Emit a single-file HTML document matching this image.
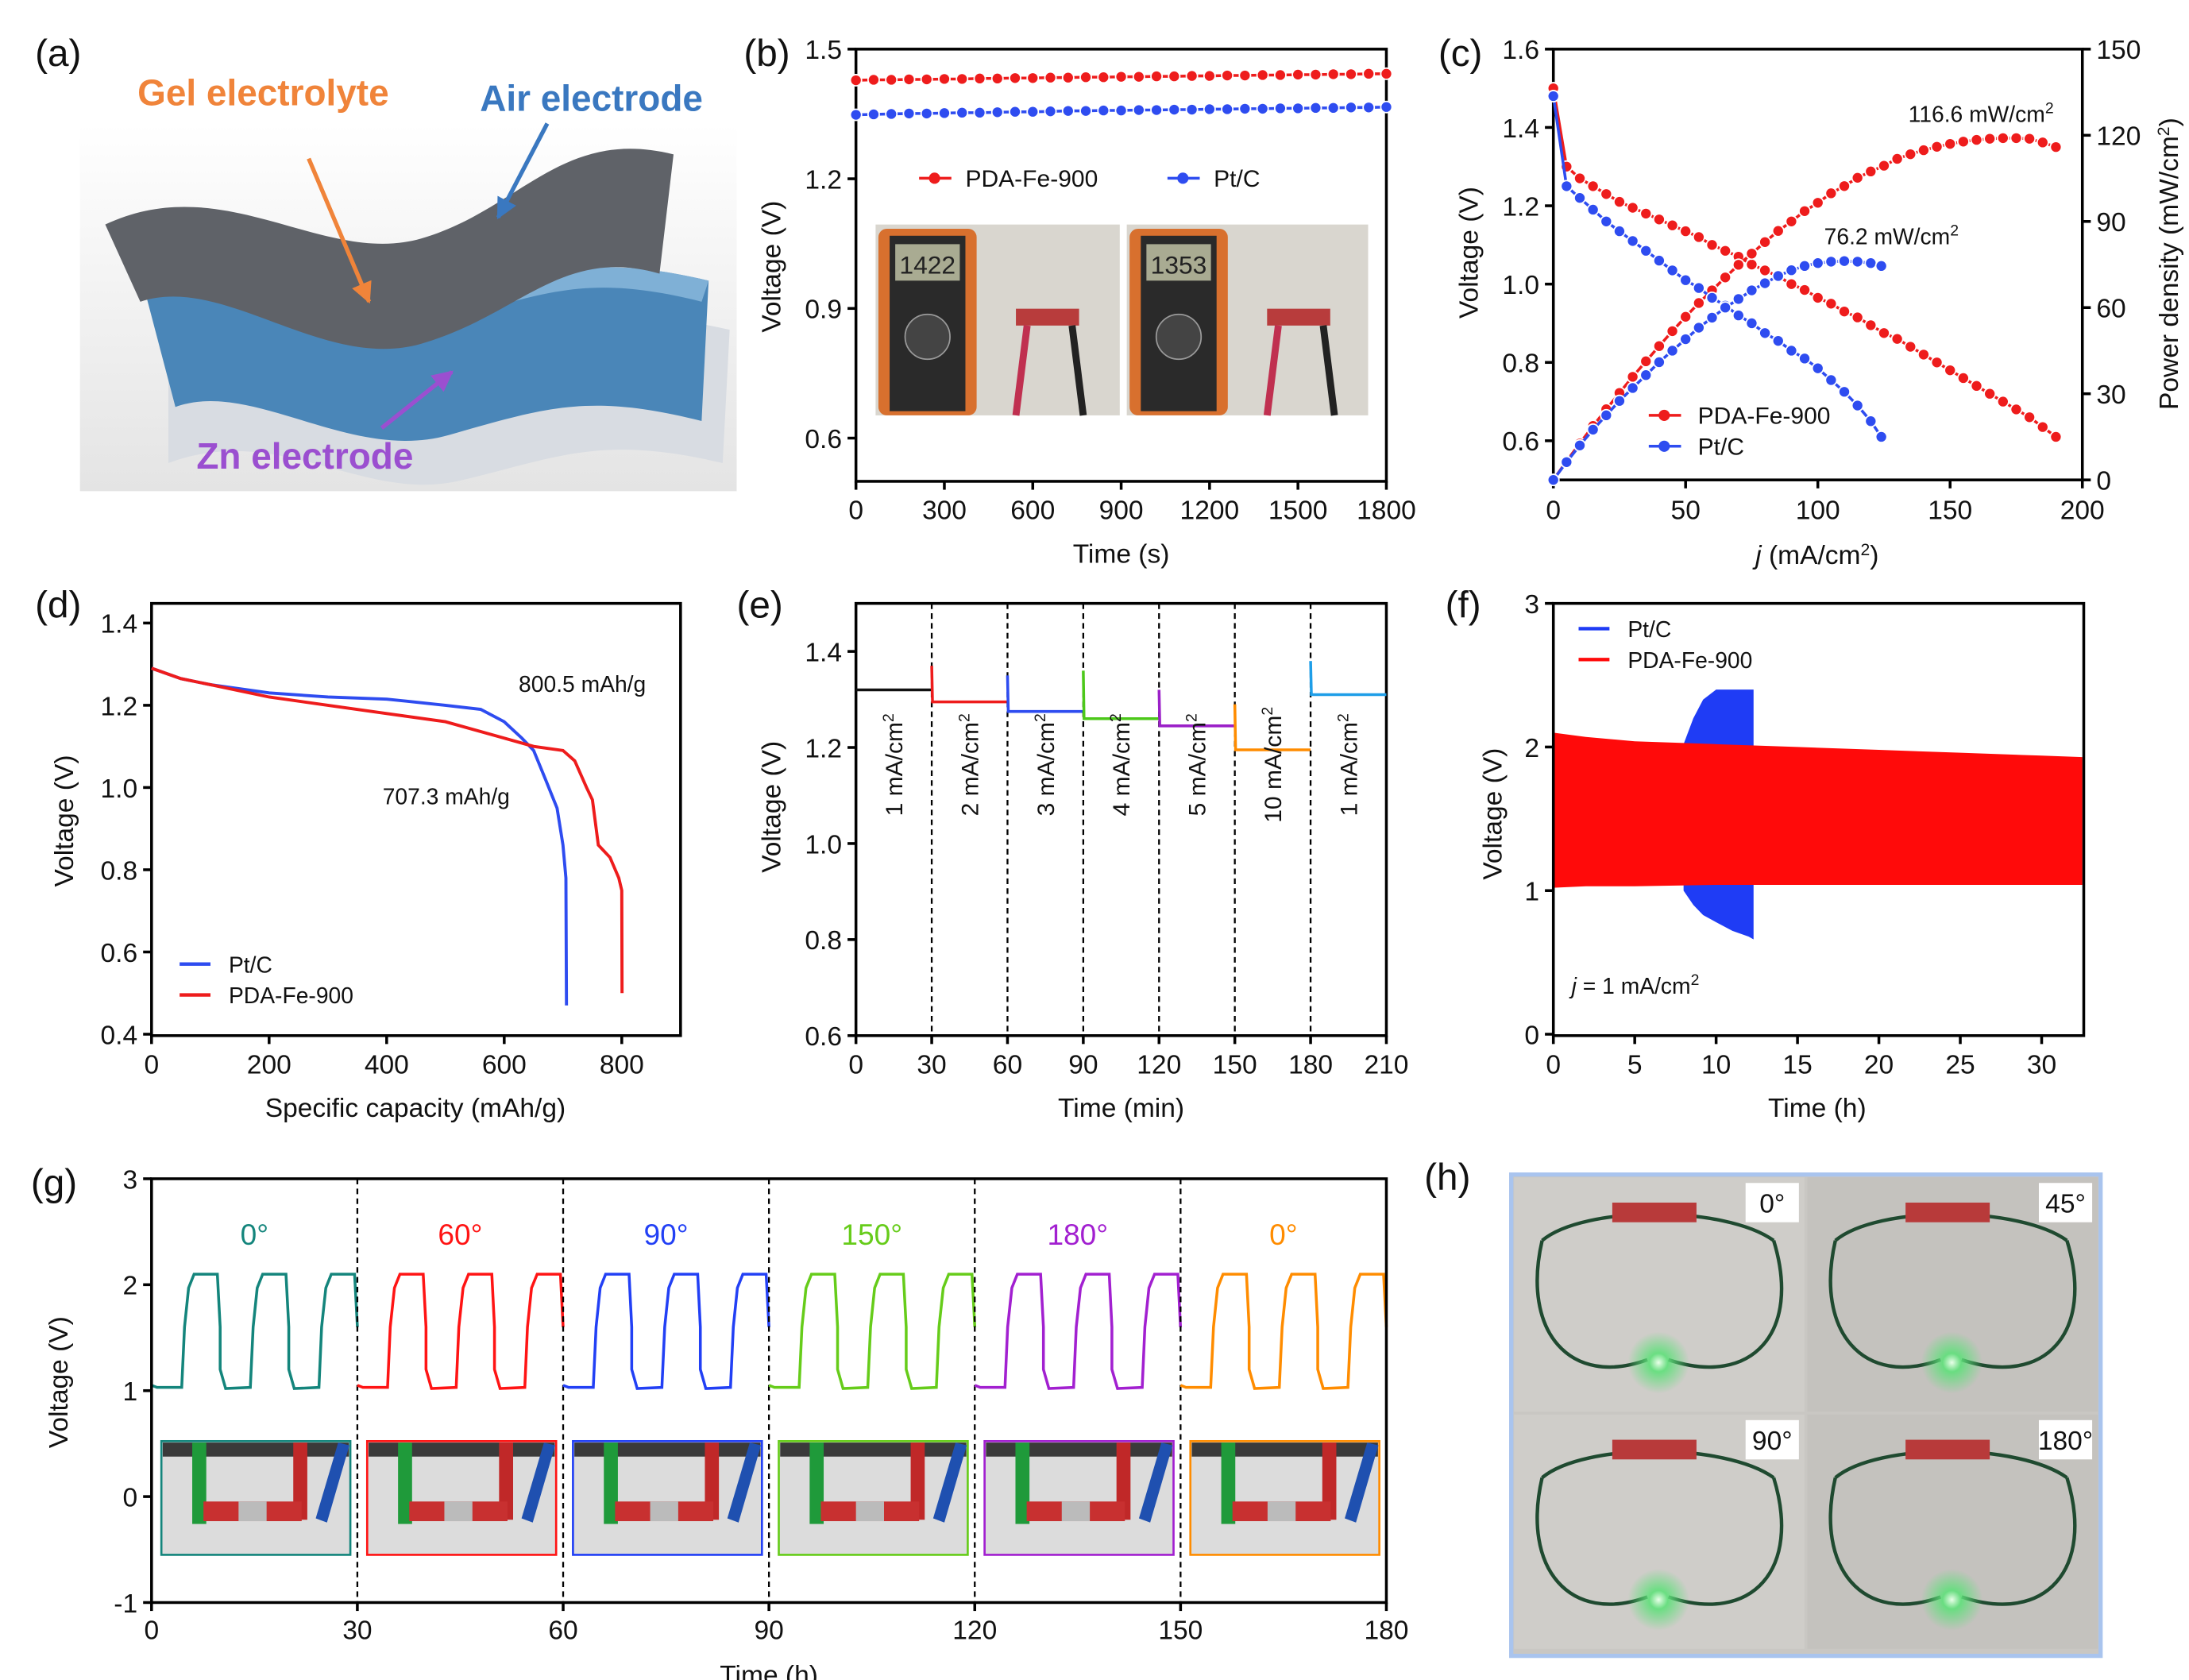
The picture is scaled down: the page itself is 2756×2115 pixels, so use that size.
<!DOCTYPE html>
<html><head><meta charset="utf-8">
<style>
html,body{margin:0;padding:0;background:#fff;}
svg{display:block;font-family:"Liberation Sans",Arial,sans-serif;}
</style></head>
<body>
<svg id="fig" width="2756" height="2115" viewBox="0 0 1560 1197.2" preserveAspectRatio="none" xmlns="http://www.w3.org/2000/svg">
<defs>
<radialGradient id="glow"><stop offset="0" stop-color="#eaffea"/><stop offset="0.3" stop-color="#5fe07a" stop-opacity="0.9"/><stop offset="1" stop-color="#5fe07a" stop-opacity="0"/></radialGradient>
<linearGradient id="abg" x1="0" y1="0" x2="0" y2="1"><stop offset="0" stop-color="#ffffff"/><stop offset="1" stop-color="#e4e4e4"/></linearGradient>
<marker id="arrO" viewBox="0 0 10 10" refX="9" refY="5" markerWidth="5" markerHeight="5" orient="auto"><path d="M0,0L10,5L0,10z" fill="#f0843a"/></marker>
<marker id="arrB" viewBox="0 0 10 10" refX="9" refY="5" markerWidth="5" markerHeight="5" orient="auto"><path d="M0,0L10,5L0,10z" fill="#3a78c0"/></marker>
<marker id="arrP" viewBox="0 0 10 10" refX="9" refY="5" markerWidth="5" markerHeight="5" orient="auto"><path d="M0,0L10,5L0,10z" fill="#9b4fd0"/></marker>
</defs>

<!-- panel a -->
<g>
<rect x="57" y="88" width="468" height="262" fill="url(#abg)"/>
<path d="M120,248 C200,200 260,270 330,250 C400,230 430,215 520,235 L515,330 C430,310 400,325 330,342 C260,360 200,300 120,330 Z" fill="#d8dce2"/>
<path d="M100,195 C180,160 250,235 320,215 C390,195 420,180 505,200 L500,300 C420,280 390,290 320,310 C250,330 180,270 125,290 Z" fill="#4a86b8"/>
<path d="M100,195 C180,160 250,235 320,215 C390,195 420,180 505,200 L500,215 C420,195 390,208 320,228 C250,248 180,178 100,210 Z" fill="#7fb0d6"/>
<path d="M75,160 C160,120 230,190 300,170 C370,150 400,90 480,110 L470,195 C400,175 370,225 300,245 C230,265 160,195 100,215 Z" fill="#5f6268"/>
<text x="98" y="75" font-size="26" font-weight="bold" fill="#f0843a">Gel electrolyte</text>
<text x="342" y="79" font-size="26" font-weight="bold" fill="#3a78c0">Air electrode</text>
<text x="140" y="334" font-size="26" font-weight="bold" fill="#9b4fd0">Zn electrode</text>
<line x1="220" y1="113" x2="263" y2="215" stroke="#f0843a" stroke-width="3" marker-end="url(#arrO)"/>
<line x1="390" y1="88" x2="355" y2="155" stroke="#3a78c0" stroke-width="3" marker-end="url(#arrB)"/>
<line x1="272" y1="305" x2="322" y2="265" stroke="#9b4fd0" stroke-width="3" marker-end="url(#arrP)"/>
</g>

<g id="plots"></g>
</svg>

<script>
const NS='http://www.w3.org/2000/svg';
const root=document.getElementById('plots');
function mk(tag,attrs,parent){const e=document.createElementNS(NS,tag);for(const k in attrs)e.setAttribute(k,attrs[k]);(parent||root).appendChild(e);return e;}
function txt(s,x,y,attrs,parent){const t=mk('text',Object.assign({x:x,y:y,'font-size':19,fill:'#111'},attrs||{}),parent);t.textContent=s;return t;}
function lin(d0,d1,p0,p1){return v=>p0+(v-d0)/(d1-d0)*(p1-p0);}
function ptsStr(xs,ys,fx,fy){return xs.map((x,i)=>fx(x).toFixed(1)+','+fy(ys[i]).toFixed(1)).join(' ');}

/* ===== DATA ===== */
// (b)
const bTime=[0,60,120,180,240,300,360,420,480,540,600,660,720,780,840,900,960,1020,1080,1140,1200,1260,1320,1380,1440,1500,1560,1620,1680,1740,1800];
const bPDA=[1.428,1.429,1.429,1.430,1.430,1.431,1.431,1.432,1.432,1.433,1.433,1.434,1.434,1.435,1.435,1.436,1.436,1.437,1.437,1.438,1.438,1.439,1.439,1.440,1.440,1.441,1.441,1.442,1.442,1.443,1.443];
const bPtC=[1.348,1.349,1.350,1.351,1.351,1.352,1.353,1.353,1.354,1.355,1.355,1.356,1.357,1.357,1.358,1.358,1.359,1.359,1.360,1.360,1.361,1.361,1.362,1.362,1.363,1.363,1.364,1.364,1.365,1.365,1.366];
const bXTicks=[0,300,600,900,1200,1500,1800];
const bYTicks=[0.6,0.9,1.2,1.5];
// (c)
const cJpda=[0,5,10,15,20,25,30,35,40,45,50,55,60,65,70,75,80,85,90,95,100,105,110,115,120,125,130,135,140,145,150,155,160,165,170,175,180,185,190];
const cVpda=[1.50,1.30,1.27,1.25,1.23,1.21,1.195,1.18,1.165,1.15,1.135,1.12,1.10,1.085,1.07,1.05,1.035,1.02,1.0,0.985,0.965,0.95,0.93,0.915,0.895,0.875,0.86,0.84,0.82,0.80,0.78,0.76,0.74,0.72,0.70,0.68,0.66,0.635,0.61];
const cPpda=[0,6.5,12.7,18.8,24.6,30.3,35.9,41.3,46.6,51.8,56.8,61.6,66,70.5,74.9,78.8,82.8,86.7,90,93.6,96.5,99.8,102.3,105.2,107.4,109.4,111.8,113.4,114.8,116,117,117.8,118.4,118.8,119,119,118.8,117.5,115.9];
const cJptc=[0,5,10,15,20,25,30,35,40,45,50,55,60,65,70,75,80,85,90,95,100,105,110,115,120,124];
const cVptc=[1.48,1.25,1.22,1.19,1.16,1.135,1.11,1.085,1.06,1.035,1.01,0.99,0.965,0.945,0.92,0.90,0.875,0.855,0.83,0.81,0.785,0.755,0.725,0.69,0.65,0.61];
const cPptc=[0,6.2,12,17.5,22.5,27.5,32,36.5,41,45,49,53,56.5,60,63,66,68.5,71,73,74.5,75.5,76,76.2,76,75.5,74.5];
const cXTicks=[0,50,100,150,200];
const cYTicks=[0.6,0.8,1.0,1.2,1.4,1.6];
const cY2Ticks=[0,30,60,90,120,150];
// (d)
const dCapPtc=[0,50,100,200,300,400,500,560,600,630,650,670,690,700,705,706];
const dVPtc=[1.29,1.265,1.25,1.23,1.22,1.215,1.20,1.19,1.16,1.12,1.09,1.02,0.95,0.86,0.78,0.47];
const dCapPda=[0,50,100,200,300,400,500,600,650,700,720,740,750,760,780,795,800,800.5];
const dVPda=[1.29,1.265,1.25,1.22,1.20,1.18,1.16,1.12,1.10,1.09,1.065,1.00,0.97,0.86,0.83,0.78,0.75,0.5];
const dXTicks=[0,200,400,600,800];
const dYTicks=[0.4,0.6,0.8,1.0,1.2,1.4];
// (e)
const eStart=[0,30,60,90,120,150,180];
const eVolt=[1.32,1.295,1.275,1.26,1.245,1.195,1.31];
const eSpike=[1.32,1.37,1.35,1.36,1.32,1.29,1.38];
const eLabels=['1 mA/cm','2 mA/cm','3 mA/cm','4 mA/cm','5 mA/cm','10 mA/cm','1 mA/cm'];
const eXTicks=[0,30,60,90,120,150,180,210];
const eYTicks=[0.6,0.8,1.0,1.2,1.4];
// (f)
const fTime=[0,2,5,10,15,20,25,30,32.5];
const fUpper=[2.1,2.07,2.04,2.02,2.0,1.98,1.96,1.94,1.93];
const fLower=[1.02,1.03,1.03,1.04,1.04,1.04,1.04,1.04,1.04];
const fBlueTime=[8,8.6,9.2,10,11,12,12.3];
const fBlueUpper=[2.02,2.2,2.33,2.4,2.4,2.4,2.4];
const fBlueLower=[1.0,0.9,0.83,0.78,0.72,0.68,0.66];
const fXTicks=[0,5,10,15,20,25,30];
const fYTicks=[0,1,2,3];
// (g)
const gSegStart=[0,30,60,90,120,150];
const gAngles=['0°','60°','90°','150°','180°','0°'];
const gTplT=[0,0.8,4.4,4.8,5.4,6.2,9.6,10];
const gTplV=[1.2,1.02,1.03,1.6,1.97,2.1,2.1,1.6];
const gXTicks=[0,30,60,90,120,150,180];
const gYTicks=[-1,0,1,2,3];

/* ===== helpers ===== */
function frame(name,x0,y0,x1,y1){const r=mk('rect',{x:x0,y:y0,width:x1-x0,height:y1-y0,fill:'none',stroke:'#000','stroke-width':2});

}
function xAxis(ticks,fx,y,labelY,fmt,prefix){ticks.forEach(v=>{mk('line',{x1:fx(v),x2:fx(v),y1:y,y2:y+6,stroke:'#000','stroke-width':2});
const t=txt(fmt?fmt(v):String(v),fx(v),labelY,{'text-anchor':'middle'});

});}
function yAxis(ticks,fy,x,fmt,prefix,right){ticks.forEach(v=>{mk('line',{x1:x,x2:right?x+6:x-6,y1:fy(v),y2:fy(v),stroke:'#000','stroke-width':2});
const t=txt(fmt?fmt(v):String(v),right?x+10:x-10,fy(v)+7,{'text-anchor':right?'start':'end'});

});}
function vtitle(s,x,y,name){const t=txt(s,x,y,{'text-anchor':'middle',transform:'rotate(-90 '+x+' '+y+')'});

return t;}
function htitle(s,x,y,name){const t=txt(s,x,y,{'text-anchor':'middle'});

return t;}
function plabel(s,x,y){const t=txt(s,x,y,{'font-size':27});

}
function markerSeries(xs,ys,fx,fy,color,name){const g=mk('g',{});


mk('polyline',{points:ptsStr(xs,ys,fx,fy),fill:'none',stroke:color,'stroke-width':2},g);
xs.forEach((x,i)=>{const c=mk('circle',{cx:fx(x),cy:fy(ys[i]),r:4,fill:color,stroke:'#fff','stroke-width':1},g);

});}
function line(xs,ys,fx,fy,color,name,w){const p=mk('polyline',{points:ptsStr(xs,ys,fx,fy),fill:'none',stroke:color,'stroke-width':w||2.2});

}

/* ===== panel labels ===== */
plabel('(a)',25,47);plabel('(b)',530,47);plabel('(c)',1025,47);plabel('(d)',25,440);plabel('(e)',525,440);plabel('(f)',1030,440);plabel('(g)',22,852);plabel('(h)',1015,848);

/* ===== (b) ===== */
(function(){const fx=lin(0,1800,610,988),fy=lin(0.5,1.5,343,35);
// photos
[[624,798,'1422'],[803,975,'1353']].forEach((p,i)=>{const g=mk('g',{});


mk('rect',{x:p[0],y:160,width:p[1]-p[0],height:136,fill:'#d9d6cf'},g);
mk('rect',{x:p[0]+2,y:163,width:70,height:133,rx:6,fill:'#d8702e'},g);
mk('rect',{x:p[0]+10,y:168,width:54,height:125,fill:'#2a2a2a'},g);
mk('rect',{x:p[0]+14,y:174,width:46,height:26,fill:'#a9ab92'},g);
txt(p[2],p[0]+37,195,{'text-anchor':'middle','font-size':18,fill:'#222'},g);
mk('circle',{cx:p[0]+37,cy:240,r:16,fill:'#444',stroke:'#999'},g);
mk('rect',{x:p[0]+100,y:220,width:45,height:12,fill:'#b83c3c'},g);
mk('line',{x1:p[0]+108,y1:232,x2:p[0]+100,y2:296,stroke:'#c03050','stroke-width':5},g);
mk('line',{x1:p[0]+140,y1:232,x2:p[0]+148,y2:296,stroke:'#222','stroke-width':5},g);});
frame('plot-frame-b',610,35,988,343);
xAxis(bXTicks,fx,343,370,null,'b');yAxis(bYTicks,fy,610,v=>v.toFixed(1),'b');
htitle('Time (s)',799,401,'x-axis-title-b');vtitle('Voltage (V)',556,190,'y-axis-title-b');
markerSeries(bTime,bPDA,fx,fy,'#ee1c1c','series-b-pda-fe-900');
markerSeries(bTime,bPtC,fx,fy,'#2e4cf0','series-b-ptc');
const lg=mk('g',{});
mk('line',{x1:655,x2:678,y1:127,y2:127,stroke:'#ee1c1c','stroke-width':2},lg);mk('circle',{cx:666,cy:127,r:4,fill:'#ee1c1c'},lg);
txt('PDA-Fe-900',688,133,{'font-size':17},lg);
mk('line',{x1:832,x2:855,y1:127,y2:127,stroke:'#2e4cf0','stroke-width':2},lg);mk('circle',{cx:843,cy:127,r:4,fill:'#2e4cf0'},lg);
txt('Pt/C',865,133,{'font-size':17},lg);})();

/* ===== (c) ===== */
(function(){const fx=lin(0,200,1107,1484),fy=lin(0.5,1.6,342,35),fy2=lin(0,150,342,35);
frame('plot-frame-c',1107,35,1484,342);
xAxis(cXTicks,fx,342,370,null,'c');yAxis(cYTicks,fy,1107,v=>v.toFixed(1),'c');yAxis(cY2Ticks,fy2,1484,null,'c2',true);
htitle('',1295,402,'x-axis-title-c').innerHTML='<tspan font-style="italic">j</tspan> (mA/cm<tspan baseline-shift="super" font-size="12">2</tspan>)';
vtitle('Voltage (V)',1053,180,'y-axis-title-c');
vtitle('',1552,188,'y2-axis-title-c').innerHTML='Power density (mW/cm<tspan baseline-shift="super" font-size="12">2</tspan>)';
markerSeries(cJpda,cVpda,fx,fy,'#ee1c1c','series-c-pda-voltage');
markerSeries(cJpda,cPpda,fx,fy2,'#ee1c1c','series-c-pda-power');
markerSeries(cJptc,cVptc,fx,fy,'#2e4cf0','series-c-ptc-voltage');
markerSeries(cJptc,cPptc,fx,fy2,'#2e4cf0','series-c-ptc-power');
const a1=txt('',1360,87,{'font-size':16});a1.innerHTML='116.6 mW/cm<tspan baseline-shift="super" font-size="11">2</tspan>';
const a2=txt('',1300,174,{'font-size':16});a2.innerHTML='76.2 mW/cm<tspan baseline-shift="super" font-size="11">2</tspan>';
const lg=mk('g',{});
mk('line',{x1:1175,x2:1198,y1:296,y2:296,stroke:'#ee1c1c','stroke-width':2},lg);mk('circle',{cx:1186,cy:296,r:4,fill:'#ee1c1c'},lg);
txt('PDA-Fe-900',1210,302,{'font-size':17},lg);
mk('line',{x1:1175,x2:1198,y1:318,y2:318,stroke:'#2e4cf0','stroke-width':2},lg);mk('circle',{cx:1186,cy:318,r:4,fill:'#2e4cf0'},lg);
txt('Pt/C',1210,324,{'font-size':17},lg);})();

/* ===== (d) ===== */
(function(){const fx=lin(0,900,108,485),fy=lin(0.4,1.4,737,444);
frame('plot-frame-d',108,430,485,738);
xAxis(dXTicks,fx,738,765,null,'d');yAxis(dYTicks,fy,108,v=>v.toFixed(1),'d');
htitle('Specific capacity (mAh/g)',296,796,'x-axis-title-d');vtitle('Voltage (V)',52,585,'y-axis-title-d');
line(dCapPtc,dVPtc,fx,fy,'#2e4cf0','series-d-ptc');
line(dCapPda,dVPda,fx,fy,'#ee1c1c','series-d-pda-fe-900');
htitle('800.5 mAh/g',415,493,'annotation-d-pda').setAttribute('font-size',16);
htitle('707.3 mAh/g',318,573,'annotation-d-ptc').setAttribute('font-size',16);
const lg=mk('g',{});
mk('line',{x1:128,x2:150,y1:687,y2:687,stroke:'#2e4cf0','stroke-width':2.5},lg);txt('Pt/C',163,693,{'font-size':16},lg);
mk('line',{x1:128,x2:150,y1:709,y2:709,stroke:'#ee1c1c','stroke-width':2.5},lg);txt('PDA-Fe-900',163,715,{'font-size':16},lg);})();

/* ===== (e) ===== */
(function(){const fx=lin(0,210,610,988),fy=lin(0.6,1.5,738,430);
const cols=['#111','#ee1c1c','#2e4cf0','#4cc81a','#9b20c8','#ff8c00','#1e9ee8'];
frame('plot-frame-e',610,430,988,738);
xAxis(eXTicks,fx,738,765,null,'e');yAxis(eYTicks,fy,610,v=>v.toFixed(1),'e');
htitle('Time (min)',799,796,'x-axis-title-e');vtitle('Voltage (V)',556,575,'y-axis-title-e');
eStart.forEach((s,i)=>{ if(i>0){const d=mk('line',{x1:fx(s),x2:fx(s),y1:430,y2:738,stroke:'#000','stroke-width':1.3,'stroke-dasharray':'4,3'});

}
const p=mk('polyline',{points:[fx(s),fy(eSpike[i]),fx(s+0.3),fy(eVolt[i]),fx(s+30),fy(eVolt[i])].join(' '),fill:'none',stroke:cols[i],'stroke-width':2});


const cx=fx(s+15),cy=545;const t=txt('',cx,cy+6,{'text-anchor':'middle',transform:'rotate(-90 '+cx+' '+cy+')','font-size':17});
t.innerHTML=eLabels[i]+'<tspan baseline-shift="super" font-size="11">2</tspan>';

});})();

/* ===== (f) ===== */
(function(){const fx=lin(0,30,1107,1455),fy=lin(0,3,737,430);
const bp=fBlueTime.map(t=>fx(t)+','+fy(fBlueUpper[fBlueTime.indexOf(t)])).concat(fBlueTime.slice().reverse().map(t=>fx(t)+','+fy(fBlueLower[fBlueTime.indexOf(t)])));
const b=mk('polygon',{points:bp.join(' '),fill:'#1f3cf5'});


const rp=fTime.map((t,i)=>fx(t)+','+fy(fUpper[i])).concat(fTime.map((t,i)=>fx(t)+','+fy(fLower[i])).reverse());
const r=mk('polygon',{points:rp.join(' '),fill:'#ff0a0a'});


frame('plot-frame-f',1107,430,1485,738);
xAxis(fXTicks,fx,738,765,null,'f');yAxis(fYTicks,fy,1107,null,'f');
htitle('Time (h)',1295,796,'x-axis-title-f');vtitle('Voltage (V)',1070,580,'y-axis-title-f');
const lg=mk('g',{});
mk('line',{x1:1125,x2:1147,y1:448,y2:448,stroke:'#1f3cf5','stroke-width':2.5},lg);txt('Pt/C',1160,454,{'font-size':16},lg);
mk('line',{x1:1125,x2:1147,y1:470,y2:470,stroke:'#ff0a0a','stroke-width':2.5},lg);txt('PDA-Fe-900',1160,476,{'font-size':16},lg);
const a=txt('',1120,708,{'font-size':16});a.innerHTML='<tspan font-style="italic">j</tspan> = 1 mA/cm<tspan baseline-shift="super" font-size="11">2</tspan>';

})();

/* ===== (g) ===== */
(function(){const fx=lin(0,180,108,988),fy=lin(-1,3,1142,840);
const cols=['#14857c','#ff1414','#2240f5','#66cc1a','#a220d0','#ff8c00'];
gSegStart.forEach((s,i)=>{
 const ix=fx(s)+7,iw=fx(s+30)-fx(s)-12;
 const g=mk('g',{});
 mk('rect',{x:ix,y:1027,width:iw,height:81,fill:'#dcdcdc',stroke:cols[i],'stroke-width':1.5},g);
 mk('rect',{x:ix+1,y:1028,width:iw-2,height:10,fill:'#3a3a3a'},g);
 mk('rect',{x:ix+22,y:1028,width:10,height:58,fill:'#1f9a3a'},g);
 mk('rect',{x:ix+94,y:1028,width:10,height:55,fill:'#c02828'},g);
 mk('polygon',{points:(ix+126)+',1028 '+(ix+134)+',1030 '+(ix+118)+',1085 '+(ix+110)+',1082',fill:'#1f50b0'},g);
 mk('rect',{x:ix+30,y:1070,width:70,height:14,fill:'#c83030'},g);
 mk('rect',{x:ix+55,y:1070,width:20,height:14,fill:'#bbb'},g);
 if(i>0){const d=mk('line',{x1:fx(s),x2:fx(s),y1:840,y2:1142,stroke:'#000','stroke-width':1.3,'stroke-dasharray':'4,3'});
 
 }
 const xs=[],ys=[];
 for(let c=0;c<3;c++){gTplT.forEach((t,k)=>{xs.push(s+c*10+t);ys.push(gTplV[k]);});}
 ys[0]=1.05;ys[1]=1.03;
 line(xs,ys,fx,fy,cols[i],'series-g-segment-'+i,2);
 const t=txt(gAngles[i],fx(s+15),887,{'text-anchor':'middle',fill:cols[i],'font-size':21});
 
 });
frame('plot-frame-g',108,840,988,1142);
xAxis(gXTicks,fx,1142,1168,null,'g');yAxis(gYTicks,fy,108,null,'g');
htitle('Time (h)',548,1200,'x-axis-title-g');vtitle('Voltage (V)',48,985,'y-axis-title-g');})();

/* ===== (h) ===== */
(function(){const g=mk('g',{});
mk('rect',{x:1077,y:837,width:420,height:343,fill:'#c9c7c3',stroke:'#a9c4ee','stroke-width':3},g);
const q=[[1079,839,'0°'],[1288,839,'45°'],[1079,1008,'90°'],[1288,1008,'180°']];
q.forEach((p,i)=>{const x=p[0],y=p[1];
 mk('rect',{x:x,y:y,width:207,height:167,fill:i%2?'#c4c2be':'#cfcdc9'},g);
 mk('path',{d:`M${x+20},${y+45} C${x+5},${y+110} ${x+40},${y+150} ${x+95},${y+130} M${x+185},${y+45} C${x+205},${y+110} ${x+170},${y+150} ${x+110},${y+130} M${x+20},${y+45} C${x+50},${y+20} ${x+150},${y+20} ${x+185},${y+45}`,fill:'none',stroke:'#1f4a30','stroke-width':2.5},g);
 mk('rect',{x:x+70,y:y+18,width:60,height:14,fill:'#b83a3a'},g);
 mk('circle',{cx:x+103,cy:y+132,r:22,fill:'url(#glow)'},g);
 mk('rect',{x:x+165,y:y+4,width:38,height:28,fill:'#fff'},g);
 const t=txt(p[2],x+184,y+25,{'text-anchor':'middle','font-size':19},g);
 
 });})();
</script>
</body></html>
